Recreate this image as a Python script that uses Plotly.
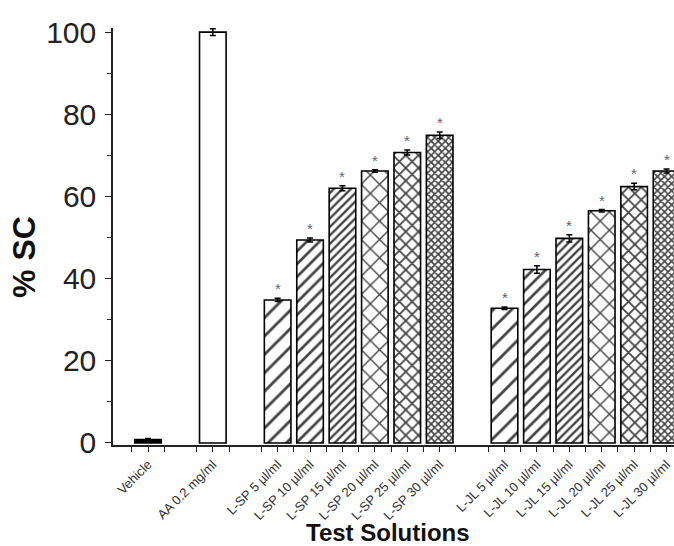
import plotly.graph_objects as go

categories = ["Vehicle", "AA 0.2 mg/ml",
              "L-SP 5 µl/ml", "L-SP 10 µl/ml", "L-SP 15 µl/ml", "L-SP 20 µl/ml", "L-SP 25 µl/ml", "L-SP 30 µl/ml",
              "L-JL 5 µl/ml", "L-JL 10 µl/ml", "L-JL 15 µl/ml", "L-JL 20 µl/ml", "L-JL 25 µl/ml", "L-JL 30 µl/ml"]
positions = [0, 2, 4, 5, 6, 7, 8, 9, 11, 12, 13, 14, 15, 16]
values = [0.8, 100.0, 34.8, 49.4, 62.0, 66.2, 70.7, 74.9, 32.8, 42.2, 49.8, 56.5, 62.4, 66.2]
errors = [0.3, 0.8, 0.4, 0.5, 0.6, 0.3, 0.6, 0.8, 0.3, 0.9, 0.9, 0.3, 0.8, 0.5]
significant = [False, False] + [True] * 12

shapes_ = ["", "", "/", "/", "/", "x", "x", "x", "/", "/", "/", "x", "x", "x"]
sizes_ = [8, 8, 13, 9, 6, 13, 9, 5, 13, 9, 6, 13, 9, 5]
solid_ = [0.3, 0.3, 0.22, 0.3, 0.4, 0.2, 0.35, 0.55, 0.22, 0.3, 0.4, 0.2, 0.35, 0.55]
fills_ = ["black", "white"] + ["white"] * 12

fig = go.Figure()
fig.add_trace(go.Bar(
    x=positions, y=values, width=0.82,
    marker=dict(color=fills_, line=dict(color="black", width=1.6),
                pattern=dict(shape=shapes_, size=sizes_, solidity=solid_, fgcolor="black",
                             fgopacity=1, bgcolor="white")),
    error_y=dict(type="data", array=errors, color="black", thickness=1.5, width=3),
    showlegend=False,
))

for p, v, e, s in zip(positions, values, errors, significant):
    if s:
        fig.add_annotation(x=p, y=v + e, text="*", showarrow=False, yanchor="bottom", yshift=-1,
                           font=dict(size=15, color="#6a6070", family="Liberation Sans"))

fig.add_annotation(xref="paper", yref="paper", x=-0.1586, y=0.451, xanchor="center", yanchor="middle",
                   text="<b>% SC</b>", textangle=-90, showarrow=False,
                   font=dict(size=32, color="#111", family="Liberation Sans"))
fig.add_annotation(xref="paper", yref="paper", x=0.490, y=-0.211, xanchor="center", yanchor="middle",
                   text="<b>Test Solutions</b>", showarrow=False,
                   font=dict(size=24, color="#111", family="Liberation Sans"))

fig.update_layout(
    width=674, height=546, margin=dict(l=113, r=0, t=28, b=101),
    plot_bgcolor="white", paper_bgcolor="white",
    font=dict(family="Liberation Sans, Arial", color="#222"),
    xaxis=dict(range=[-1.08, 16.23], tickmode="array", tickvals=positions, ticktext=categories,
               tickangle=-45, tickfont=dict(size=13, color="#333"), showgrid=False, zeroline=False,
               showline=True, linecolor="#222", linewidth=1.5, ticks="outside", ticklen=5, tickcolor="#222",
               minor=dict(tickmode="linear", tick0=0.5, dtick=1, ticks="outside", ticklen=5, tickcolor="#222")),
    yaxis=dict(range=[-0.5, 101], tickvals=[0, 20, 40, 60, 80, 100], tickfont=dict(size=30, color="#222"),
               showgrid=False, zeroline=False, showline=True, linecolor="#222", linewidth=1.5,
               ticks="outside", ticklen=6, tickcolor="#222", ticklabelstandoff=3,
               minor=dict(dtick=10, tick0=0, ticks="outside", ticklen=4, tickcolor="#222")),
    bargap=0.2,
)

fig.write_html("out.html")
